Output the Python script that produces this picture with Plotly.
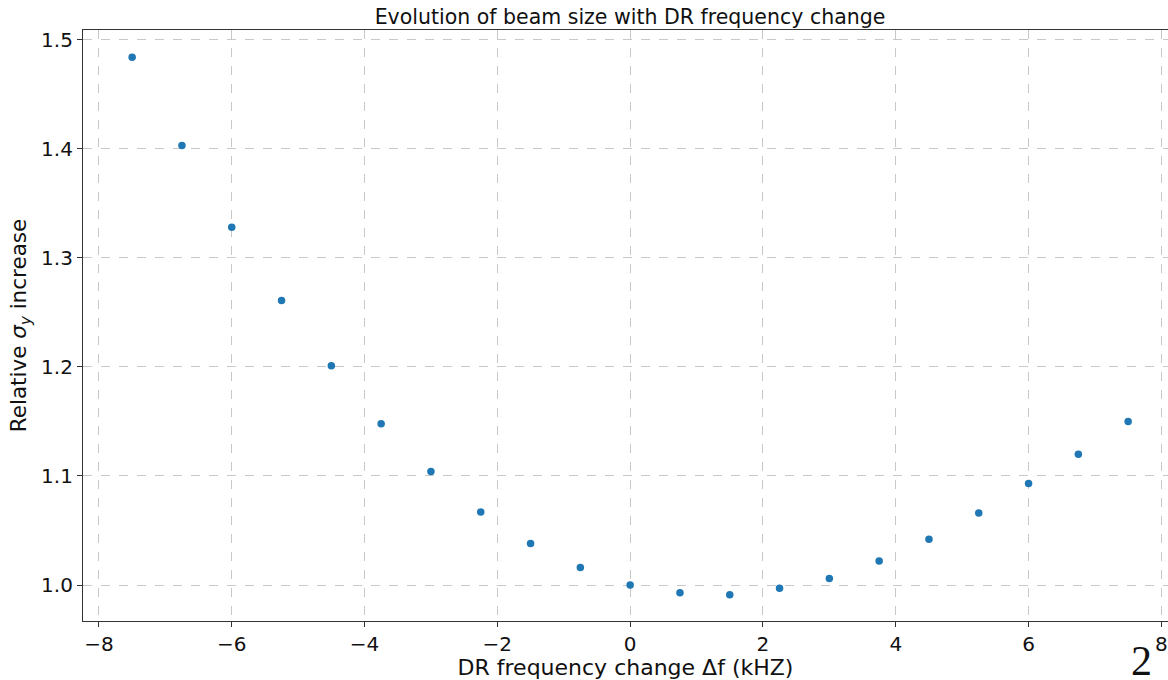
import plotly.graph_objects as go

freq_change = [-7.5, -6.75, -6.0, -5.25, -4.5, -3.75, -3.0, -2.25, -1.5, -0.75,
               0.0, 0.75, 1.5, 2.25, 3.0, 3.75, 4.5, 5.25, 6.0, 6.75, 7.5]
rel_sigma_y = [1.484, 1.403, 1.328, 1.261, 1.201, 1.148, 1.104, 1.067, 1.038, 1.016,
               1.000, 0.993, 0.991, 0.997, 1.006, 1.022, 1.042, 1.066, 1.093, 1.120, 1.150]
x_ticks = [-8, -6, -4, -2, 0, 2, 4, 6, 8]
y_ticks = [1.0, 1.1, 1.2, 1.3, 1.4, 1.5]

fig = go.Figure()
fig.add_trace(go.Scatter(
    x=freq_change, y=rel_sigma_y, mode="markers",
    marker=dict(color="#1f77b4", size=7.5, line=dict(width=0)),
    showlegend=False,
))

axis_common = dict(
    showline=True, linecolor="#333333", linewidth=1.2,
    ticks="outside", ticklen=5, tickwidth=1, tickcolor="#333333",
    showgrid=True, gridcolor="#c8c8c8", griddash="dash", gridwidth=1,
    zeroline=False,
    tickfont=dict(family="DejaVu Sans", size=20, color="#111111"),
)

fig.update_layout(
    width=1168, height=680,
    margin=dict(l=83, r=0, t=30, b=59),
    paper_bgcolor="white", plot_bgcolor="white",
    title=dict(text="Evolution of beam size with DR frequency change",
               x=630 / 1168, xanchor="center", y=0.975, yanchor="middle",
               font=dict(family="DejaVu Sans", size=20.5, color="#111111")),
    xaxis=dict(**axis_common, range=[-8.24, 8.10], tickvals=x_ticks,
               ticktext=[("\u2212" if v < 0 else "") + str(abs(v)) for v in x_ticks],
               mirror=True,
               title=dict(text="DR frequency change \u0394f (kHZ)", standoff=5,
                          font=dict(family="DejaVu Sans", size=22, color="#111111"))),
    yaxis=dict(**axis_common, range=[0.967, 1.509], tickvals=y_ticks,
               ticktext=[f"{v:.1f}" for v in y_ticks],
               title=dict(text="Relative <i>\u03c3<sub>y</sub></i> increase", standoff=8,
                          font=dict(family="DejaVu Sans", size=21.5, color="#111111"))),
)
fig.add_annotation(text="2", xref="paper", yref="paper",
                   x=(1141 - 83) / (1168 - 83), y=-(661 - 621) / (621 - 30),
                   xanchor="center", yanchor="middle", showarrow=False,
                   font=dict(family="Liberation Serif", size=42, color="#111111"))

fig.write_html("out.html")
